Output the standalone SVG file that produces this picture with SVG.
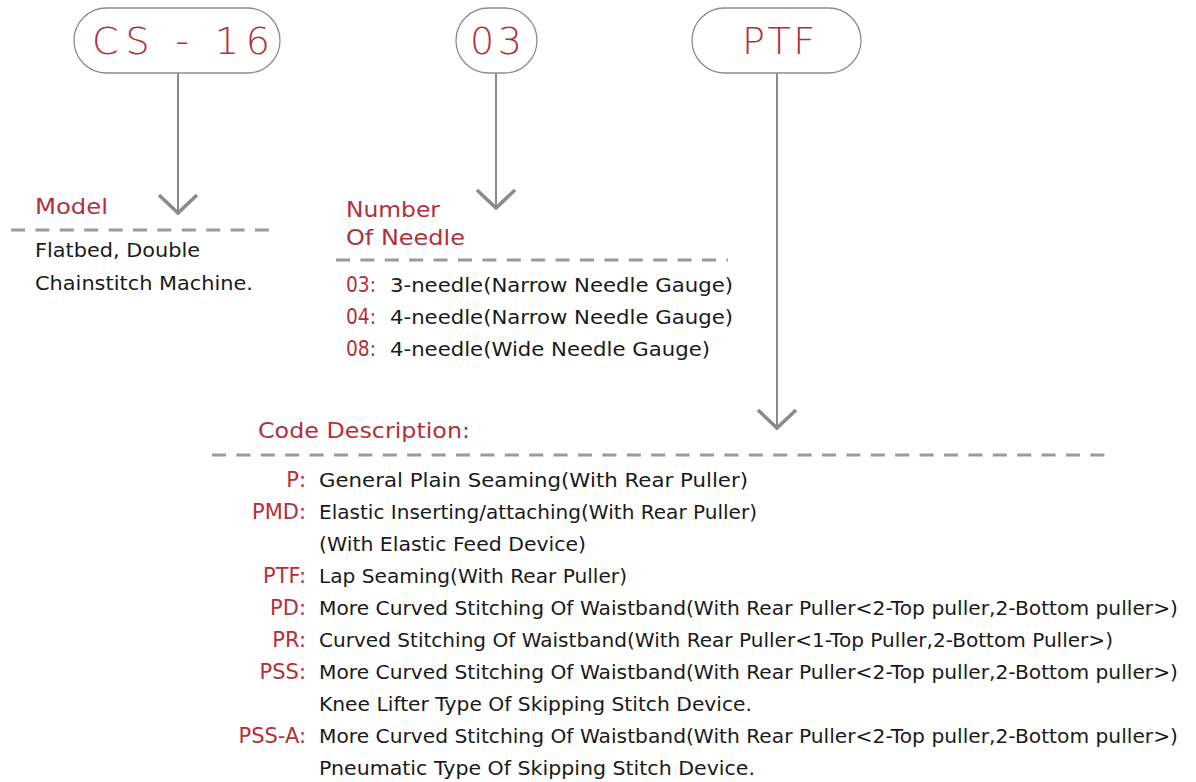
<svg xmlns="http://www.w3.org/2000/svg" width="1196" height="782" viewBox="0 0 1196 782">
<style>
.pill{fill:#fff;stroke:#8c8c8c;stroke-width:1.3}
.pt{font-family:"DejaVu Sans","Liberation Sans",sans-serif;font-size:38px;font-weight:300;fill:#b3303a}
.conn{stroke:#8a8a8a;stroke-width:2;fill:none}
.chev{stroke:#8a8a8a;stroke-width:3.5;fill:none;stroke-linecap:butt;stroke-linejoin:miter}
.dash{stroke:#9a9a9a;stroke-width:3;stroke-dasharray:14 10.4;fill:none}
.h{font-family:"DejaVu Sans","Liberation Sans",sans-serif;font-size:22px;fill:#b3303a}
.t{font-family:"DejaVu Sans","Liberation Sans",sans-serif;font-size:20px;fill:#1a1a1a}
.c{font-family:"DejaVu Sans","Liberation Sans",sans-serif;font-size:21px;fill:#b3303a}
</style>
<rect width="1196" height="782" fill="#fff"/>
<g id="connectors">
<line class="conn" x1="178" y1="73" x2="178" y2="212"/>
<polyline class="chev" points="159,195 178,213 197,195"/>
<line class="conn" x1="496" y1="73" x2="496" y2="207"/>
<polyline class="chev" points="477,190 496,208 515,190"/>
<line class="conn" x1="777" y1="73" x2="777" y2="427"/>
<polyline class="chev" points="758,410 777,428 796,410"/>
</g>
<g id="node-cs16">
<rect class="pill" x="74" y="8" width="206" height="65" rx="32.5"/>
<text class="pt" x="92" y="54" textLength="178" lengthAdjust="spacing">CS - 16</text>
</g>
<g id="node-03">
<rect class="pill" x="456" y="8" width="81" height="65" rx="32.5"/>
<text class="pt" x="470" y="54" textLength="52" lengthAdjust="spacing">03</text>
</g>
<g id="node-ptf">
<rect class="pill" x="692" y="8" width="169" height="65" rx="32.5"/>
<text class="pt" x="742" y="54" textLength="73" lengthAdjust="spacing">PTF</text>
</g>
<g id="node-model">
<text class="h" x="35" y="214" textLength="73" lengthAdjust="spacingAndGlyphs">Model</text>
<line class="dash" x1="11" y1="230" x2="270" y2="230"/>
<text class="t" x="35" y="257" textLength="165" lengthAdjust="spacingAndGlyphs">Flatbed, Double</text>
<text class="t" x="35" y="290" textLength="218" lengthAdjust="spacingAndGlyphs">Chainstitch Machine.</text>
</g>
<g id="node-needle">
<text class="h" x="346" y="217" textLength="94" lengthAdjust="spacingAndGlyphs">Number</text>
<text class="h" x="346" y="245" textLength="119" lengthAdjust="spacingAndGlyphs">Of Needle</text>
<line class="dash" x1="336" y1="260" x2="728" y2="260"/>
<text class="c" x="346" y="292" textLength="30" lengthAdjust="spacingAndGlyphs">03:</text>
<text class="t" x="390" y="292" textLength="343" lengthAdjust="spacingAndGlyphs">3-needle(Narrow Needle Gauge)</text>
<text class="c" x="346" y="324" textLength="30" lengthAdjust="spacingAndGlyphs">04:</text>
<text class="t" x="390" y="324" textLength="343" lengthAdjust="spacingAndGlyphs">4-needle(Narrow Needle Gauge)</text>
<text class="c" x="346" y="356" textLength="30" lengthAdjust="spacingAndGlyphs">08:</text>
<text class="t" x="390" y="356" textLength="320" lengthAdjust="spacingAndGlyphs">4-needle(Wide Needle Gauge)</text>
</g>
<g id="node-code">
<text class="h" x="258" y="438" textLength="212" lengthAdjust="spacingAndGlyphs">Code Description:</text>
<line class="dash" x1="212" y1="455" x2="1112" y2="455"/>
<g text-anchor="end">
<text class="c" x="306" y="487">P:</text>
<text class="c" x="306" y="519">PMD:</text>
<text class="c" x="306" y="583">PTF:</text>
<text class="c" x="306" y="615">PD:</text>
<text class="c" x="306" y="647">PR:</text>
<text class="c" x="306" y="679">PSS:</text>
<text class="c" x="306" y="743">PSS-A:</text>
</g>
<text class="t" x="319" y="487" textLength="429" lengthAdjust="spacingAndGlyphs">General Plain Seaming(With Rear Puller)</text>
<text class="t" x="319" y="519" textLength="438" lengthAdjust="spacingAndGlyphs">Elastic Inserting/attaching(With Rear Puller)</text>
<text class="t" x="319" y="551" textLength="267" lengthAdjust="spacingAndGlyphs">(With Elastic Feed Device)</text>
<text class="t" x="319" y="583" textLength="308" lengthAdjust="spacingAndGlyphs">Lap Seaming(With Rear Puller)</text>
<text class="t" x="319" y="615" textLength="859" lengthAdjust="spacingAndGlyphs">More Curved Stitching Of Waistband(With Rear Puller&lt;2-Top puller,2-Bottom puller&gt;)</text>
<text class="t" x="319" y="647" textLength="794" lengthAdjust="spacingAndGlyphs">Curved Stitching Of Waistband(With Rear Puller&lt;1-Top Puller,2-Bottom Puller&gt;)</text>
<text class="t" x="319" y="679" textLength="859" lengthAdjust="spacingAndGlyphs">More Curved Stitching Of Waistband(With Rear Puller&lt;2-Top puller,2-Bottom puller&gt;)</text>
<text class="t" x="319" y="711" textLength="433" lengthAdjust="spacingAndGlyphs">Knee Lifter Type Of Skipping Stitch Device.</text>
<text class="t" x="319" y="743" textLength="859" lengthAdjust="spacingAndGlyphs">More Curved Stitching Of Waistband(With Rear Puller&lt;2-Top puller,2-Bottom puller&gt;)</text>
<text class="t" x="319" y="775" textLength="436" lengthAdjust="spacingAndGlyphs">Pneumatic Type Of Skipping Stitch Device.</text>
</g>
</svg>
